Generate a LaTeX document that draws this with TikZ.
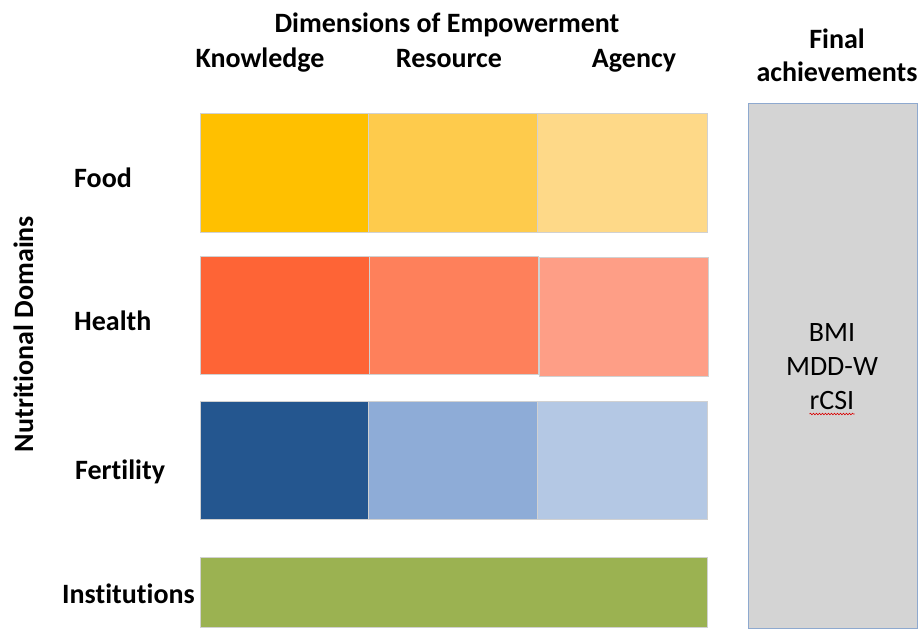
\documentclass[tikz,border=0pt]{standalone}
\usepackage{fontspec}
\setmainfont{Carlito}[RawFeature={-liga;-clig;-dlig}]
\usetikzlibrary{decorations.pathmorphing}
\definecolor{foodK}{HTML}{FFC000}
\definecolor{foodR}{HTML}{FECB4C}
\definecolor{foodA}{HTML}{FED988}
\definecolor{healthK}{HTML}{FE6436}
\definecolor{healthR}{HTML}{FE805B}
\definecolor{healthA}{HTML}{FE9E86}
\definecolor{fertK}{HTML}{24568F}
\definecolor{fertR}{HTML}{8EACD7}
\definecolor{fertA}{HTML}{B4C8E4}
\definecolor{instG}{HTML}{9BB251}
\definecolor{achFill}{HTML}{D4D4D4}
\definecolor{achLine}{HTML}{8EA9CF}
\begin{document}
\begin{tikzpicture}[x=1pt,y=-1pt,
  cell/.style={draw=black!18, line width=0.6pt, inner sep=0pt, anchor=north west},
  head/.style={font=\fontsize{28}{33}\selectfont\bfseries, inner sep=0pt, anchor=base},
  rowlab/.style={head, anchor=base west},
  ach/.style={font=\fontsize{28}{33}\selectfont, inner sep=0pt, anchor=base}]
\useasboundingbox (0,0) rectangle (922,630);

% column headings
\node[head] (dims) at (447,32) {Dimensions of Empowerment};
\node[head] (know) at (260,67) {Knowledge};
\node[head] (res)  at (449,67) {Resource};
\node[head] (agen) at (634,67) {Agency};
\node[head] (final) at (837,48) {Final};
\node[head] (achv)  at (837,81) {achievements};

% grid of domain x dimension cells
\node[cell, fill=foodK, minimum width=168pt, minimum height=119pt] (fk) at (200,113) {};
\node[cell, fill=foodR, minimum width=169pt, minimum height=119pt] (fr) at (368,113) {};
\node[cell, fill=foodA, minimum width=170pt, minimum height=119pt] (fa) at (537,113) {};

\node[cell, fill=healthK, minimum width=169pt, minimum height=118pt] (hk) at (200,256) {};
\node[cell, fill=healthR, minimum width=169pt, minimum height=118pt] (hr) at (369,256) {};
\node[cell, fill=healthA, minimum width=169pt, minimum height=119pt] (ha) at (539,257) {};

\node[cell, fill=fertK, minimum width=168pt, minimum height=118pt] (tk) at (200,401) {};
\node[cell, fill=fertR, minimum width=169pt, minimum height=118pt] (tr) at (368,401) {};
\node[cell, fill=fertA, minimum width=170pt, minimum height=118pt] (ta) at (537,401) {};

\node[cell, fill=instG, minimum width=507pt, minimum height=70pt] (inst) at (200,557) {};

% row labels
\node[rowlab] (food)   at (74,187) {Food};
\node[rowlab] (health) at (74,330) {Health};
\node[rowlab] (fert)   at (75,479) {Fertility};
\node[rowlab] (instl)  at (62,603) {Institutions};
\node[head, rotate=90] (nutr) at (33,334) {Nutritional Domains};

% final achievements box
\node[draw=achLine, fill=achFill, line width=0.9pt, inner sep=0pt, anchor=north west,
      minimum width=169pt, minimum height=525pt] (achbox) at (748,103) {};
\node[ach] (bmi)  at (832,341) {BMI};
\node[ach] (mdd)  at (832,375) {MDD-W};
\node[ach] (rcsi) at (832,409) {rCSI};
\draw[red!85!black, line width=0.6pt,
      decorate, decoration={snake, amplitude=0.8pt, segment length=3pt}]
  ([yshift=-5pt]rcsi.base west) -- ([yshift=-5pt]rcsi.base east);
\end{tikzpicture}
\end{document}
